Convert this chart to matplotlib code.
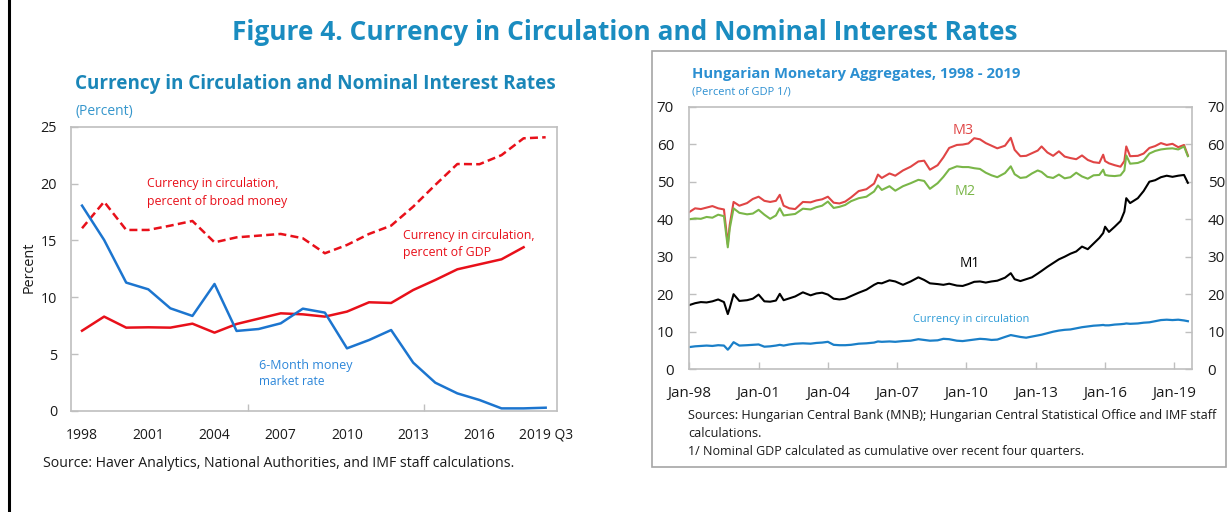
import matplotlib
matplotlib.use("Agg")
import matplotlib.pyplot as plt
import numpy as np
from matplotlib.lines import Line2D
from matplotlib.patches import Rectangle

# ---------------- data: left panel (annual) ----------------
years = ["1998", "1999", "2000", "2001", "2002", "2003", "2004", "2005", "2006", "2007", "2008",
         "2009", "2010", "2011", "2012", "2013", "2014", "2015", "2016", "2017", "2018", "2019"]
year_labels = ["1998", "2001", "2004", "2007", "2010", "2013", "2016", "2019 Q3"]
rate_6m = [18.06, 15.04, 11.29, 10.70, 9.03, 8.36, 11.17, 7.04, 7.21, 7.71, 9.00,
           8.65, 5.51, 6.24, 7.12, 4.25, 2.49, 1.55, 0.97, 0.23, 0.23, 0.29]
cic_gdp = [7.06, 8.30, 7.33, 7.36, 7.33, 7.68, 6.89, 7.65, 8.12, 8.59, 8.50,
           8.30, 8.74, 9.56, 9.50, 10.64, 11.52, 12.46, 12.90, 13.34, 14.40, np.nan]
cic_broad = [16.07, 18.40, 15.92, 15.92, 16.30, 16.71, 14.83, 15.27, 15.42, 15.57, 15.19,
             13.87, 14.60, 15.57, 16.30, 17.97, 19.88, 21.72, 21.70, 22.50, 23.98, 24.07]

# ---------------- data: right panel (months since Jan-1998) ----------------
months = [0, 3, 6, 9, 12, 15, 18, 20, 21, 23, 26, 30, 33, 36, 39, 42, 45, 47, 49, 52, 55, 59,
          63, 66, 69, 72, 75, 78, 81, 84, 88, 92, 96, 98, 100, 104, 107, 111, 115, 119, 122, 125,
          129, 132, 135, 139, 142, 145, 148, 151, 154, 157, 160, 164, 167, 169, 172, 175, 178, 181,
          183, 186, 189, 192, 195, 198, 201, 204, 207, 210, 213, 215, 216, 218, 221, 224, 226, 227,
          229, 233, 236, 239, 242, 245, 248, 251, 254, 257, 259]
m3 = [41.9, 42.9, 42.7, 43.1, 43.5, 42.9, 42.6, 33.3, 38.5, 44.6, 43.6, 44.3, 45.4, 46.0, 44.9, 44.6,
      44.9, 46.5, 43.6, 42.9, 42.7, 44.6, 44.5, 45.0, 45.3, 46.0, 44.4, 44.2, 44.7, 45.8, 47.5, 48.0,
      49.5, 51.9, 51.0, 52.2, 51.6, 53.0, 54.0, 55.4, 55.6, 53.2, 54.4, 56.5, 59.0, 59.8, 59.9, 60.2,
      61.6, 61.3, 60.3, 59.6, 58.9, 59.6, 61.7, 58.5, 56.8, 56.9, 57.6, 58.3, 59.4, 57.8, 56.9, 58.1,
      56.7, 56.3, 56.0, 57.0, 55.8, 55.2, 55.0, 57.2, 55.5, 54.9, 54.4, 54.0, 55.5, 59.4, 56.8, 56.9,
      57.5, 59.0, 59.5, 60.3, 59.8, 60.1, 59.2, 59.8, 57.0]
m2 = [40.0, 40.2, 40.1, 40.6, 40.4, 41.2, 40.8, 32.5, 37.5, 42.9, 41.7, 41.3, 41.5, 42.5, 41.2, 40.1,
      41.0, 42.9, 41.0, 41.2, 41.4, 42.8, 42.6, 43.2, 43.6, 44.7, 43.0, 43.3, 43.8, 44.8, 45.6, 46.0,
      47.4, 49.0, 47.8, 48.8, 47.6, 48.8, 49.6, 50.5, 50.2, 48.1, 49.6, 51.3, 53.3, 54.1, 53.9, 53.9,
      53.6, 53.4, 52.4, 51.7, 51.2, 52.3, 54.1, 52.0, 51.0, 51.2, 52.2, 53.0, 52.6, 51.3, 51.0, 51.9,
      50.9, 51.2, 52.4, 51.4, 50.8, 51.7, 51.8, 53.2, 51.8, 51.6, 51.5, 51.7, 53.0, 57.0, 54.8, 55.0,
      55.6, 57.5, 58.2, 58.6, 58.8, 58.9, 58.6, 59.4, 56.8]
m1 = [17.1, 17.6, 17.9, 17.8, 18.1, 18.6, 17.9, 14.7, 16.3, 20.0, 18.2, 18.4, 18.8, 19.9, 18.1, 18.0,
      18.3, 20.1, 18.4, 18.9, 19.4, 20.5, 19.7, 20.2, 20.4, 19.9, 18.8, 18.6, 18.8, 19.5, 20.4, 21.2,
      22.5, 23.0, 22.9, 23.7, 23.4, 22.5, 23.4, 24.5, 23.8, 22.9, 22.7, 22.5, 22.8, 22.3, 22.2, 22.7,
      23.3, 23.4, 23.1, 23.4, 23.6, 24.4, 25.6, 24.0, 23.5, 24.0, 24.5, 25.5, 26.2, 27.3, 28.3, 29.3,
      30.0, 30.8, 31.4, 32.7, 32.0, 33.5, 35.0, 36.3, 38.0, 36.6, 38.0, 39.5, 42.0, 45.6, 44.3, 45.6,
      47.5, 50.0, 50.4, 51.2, 51.6, 51.3, 51.6, 51.8, 49.7]
cic = [5.9, 6.1, 6.2, 6.3, 6.2, 6.4, 6.3, 5.2, 5.8, 7.2, 6.3, 6.4, 6.5, 6.6, 6.0, 6.1,
       6.3, 6.5, 6.3, 6.6, 6.8, 6.9, 6.8, 7.0, 7.1, 7.3, 6.5, 6.4, 6.4, 6.5, 6.8, 6.9,
       7.1, 7.4, 7.3, 7.4, 7.3, 7.5, 7.6, 8.0, 7.8, 7.6, 7.7, 8.1, 8.0, 7.6, 7.5, 7.7,
       7.9, 8.1, 8.0, 7.8, 7.9, 8.6, 9.1, 8.9, 8.6, 8.4, 8.7, 9.0, 9.2, 9.6, 10.0, 10.3,
       10.5, 10.6, 10.9, 11.2, 11.4, 11.6, 11.7, 11.8, 11.7, 11.7, 11.9, 12.0, 12.1, 12.2, 12.1, 12.2,
       12.4, 12.5, 12.8, 13.1, 13.2, 13.1, 13.2, 13.0, 12.8]
month_ticks = [0, 36, 72, 108, 144, 180, 216, 252]
month_labels = ["Jan-98", "Jan-01", "Jan-04", "Jan-07", "Jan-10", "Jan-13", "Jan-16", "Jan-19"]

# ---------------- styling ----------------
W, H = 1228, 512
plt.rcParams["font.family"] = ["Open Sans", "DejaVu Sans"]
RED = "#e8101a"
BLUE = "#1c75cf"
GREY = "#bfbfbf"
TITLE = "#1a86b8"
RTITLE = "#2b8fd1"

fig = plt.figure(figsize=(W / 100, H / 100), dpi=100)


def fx(x):
    return x / W


def fy(y):
    return 1 - y / H


def rect(l, t, r, b):
    return [fx(l), fy(b), (r - l) / W, (b - t) / H]


# ---------- left panel ----------
axL = fig.add_axes(rect(71, 126.7, 556.7, 411))
xi = np.arange(len(years))
axL.plot(xi, cic_broad, color=RED, lw=1.8, dashes=(3.2, 1.7))
axL.plot(xi, cic_gdp, color=RED, lw=1.8)
axL.plot(xi, rate_6m, color=BLUE, lw=1.8)
axL.set_xlim(-0.5, len(years) - 0.5)
axL.set_ylim(0, 25)
axL.set_xticks(np.arange(0, len(years), 3))
axL.set_xticklabels(year_labels)
axL.set_xticks([7.5, 15.5], minor=True)
axL.set_yticks([0, 5, 10, 15, 20, 25])
axL.tick_params(axis="x", which="major", length=0, pad=12, labelsize=10, labelcolor="#1a1a1a")
axL.tick_params(axis="x", which="minor", direction="in", length=5, color=GREY, width=1)
axL.tick_params(axis="y", direction="in", length=5, color=GREY, width=1, pad=10,
                labelsize=10.4, labelcolor="#1a1a1a")
for s in axL.spines.values():
    s.set_color(GREY)
    s.set_linewidth(1.2)

# ---------- right panel ----------
axR = fig.add_axes(rect(689.3, 106.7, 1192.3, 369.2))
axR.plot(months, m3, color="#e04545", lw=1.5)
axR.plot(months, m2, color="#7ab648", lw=1.5)
axR.plot(months, m1, color="black", lw=1.5)
axR.plot(months, cic, color="#1a7fc8", lw=1.6)
axR.set_xlim(0, 261.3)
axR.set_ylim(0, 70)
axR.set_xticks(month_ticks)
axR.set_xticklabels(month_labels)
axR.set_yticks(np.arange(0, 71, 10))
axR.tick_params(axis="x", direction="in", length=5, color=GREY, width=1, pad=12,
                labelsize=10.9, labelcolor="#1a1a1a")
axR.tick_params(axis="y", direction="in", length=5, color=GREY, width=1, pad=11,
                labelsize=10.9, labelcolor="#1a1a1a", left=True, right=True,
                labelleft=True, labelright=True)
for s in axR.spines.values():
    s.set_color(GREY)
    s.set_linewidth(1.2)

# ---------- frame decorations ----------
fig.add_artist(Line2D([fx(9), fx(9)], [0, 1], color="black", lw=2.2, transform=fig.transFigure))
fig.add_artist(Rectangle((fx(651.7), fy(466.7)), (1225.7 - 651.7) / W, (466.7 - 50.7) / H,
                         fill=False, ec="#a6a6a6", lw=1.2, transform=fig.transFigure))

# ---------- texts (x, y in pixels; target width px) ----------
texts = []


def T(x, y, s, width, ha="left", **kw):
    t = fig.text(fx(x), fy(y), s, ha=ha, va="center", **kw)
    texts.append((t, width))
    return t


T(625, 32, "Figure 4. Currency in Circulation and Nominal Interest Rates", 786, ha="center",
  color="#1a8cc0", fontsize=20, fontweight="bold")
T(75, 84, "Currency in Circulation and Nominal Interest Rates", 478, color=TITLE,
  fontsize=13, fontweight="bold")
T(75.5, 112, "(Percent)", 58, color="#3596cc", fontsize=10)
T(147, 183.3, "Currency in circulation,", 133, color=RED, fontsize=9.5)
T(147, 201, "percent of broad money", 142, color=RED, fontsize=9.5)
T(403.3, 235, "Currency in circulation,", 133, color=RED, fontsize=9.5)
T(403.3, 252.7, "percent of GDP", 89, color=RED, fontsize=9.5)
T(259.3, 365, "6-Month money", 94, color="#2c86d9", fontsize=9.5)
T(259.3, 381.7, "market rate", 67, color="#2c86d9", fontsize=9.5)
T(42.7, 463.3, "Source: Haver Analytics, National Authorities, and IMF staff calculations.", 474,
  color="#1a1a1a", fontsize=9.5)

T(691.7, 74, "Hungarian Monetary Aggregates, 1998 - 2019", 325.6, color=RTITLE,
  fontsize=11, fontweight="bold")
T(691.7, 91.7, "(Percent of GDP 1/)", 98, color=RTITLE, fontsize=8)
T(963.3, 130, "M3", 21, ha="center", color="#e04545", fontsize=11)
T(965.2, 191.7, "M2", 21, ha="center", color="#7ab648", fontsize=11)
T(969.7, 263.3, "M1", 20, ha="center", color="black", fontsize=11)
T(971.2, 319.3, "Currency in circulation", 117, ha="center", color="#2b9ad6", fontsize=9)
T(688.3, 415, "Sources: Hungarian Central Bank (MNB); Hungarian Central Statistical Office and IMF staff",
  528.4, color="#1a1a1a", fontsize=9)
T(688.3, 433.3, "calculations.", None, color="#1a1a1a", fontsize=9)
T(688.3, 451, "1/ Nominal GDP calculated as cumulative over recent four quarters.", 396.4,
  color="#1a1a1a", fontsize=9)

ylab = fig.text(fx(29), fy(267.5), "Percent", rotation=90, ha="center", va="center",
                fontsize=10.4, color="#1a1a1a")

# fit text widths
fig.canvas.draw()
r = fig.canvas.get_renderer()
ref_size = None
for t, wpx in texts:
    if wpx is None:
        continue
    bb = t.get_window_extent(r)
    t.set_fontsize(t.get_fontsize() * wpx / bb.width)
    if t.get_text().startswith("Sources:"):
        ref_size = t.get_fontsize()
for t, wpx in texts:
    if wpx is None and ref_size is not None:
        t.set_fontsize(ref_size)

fig.savefig("out.png", dpi=100)
